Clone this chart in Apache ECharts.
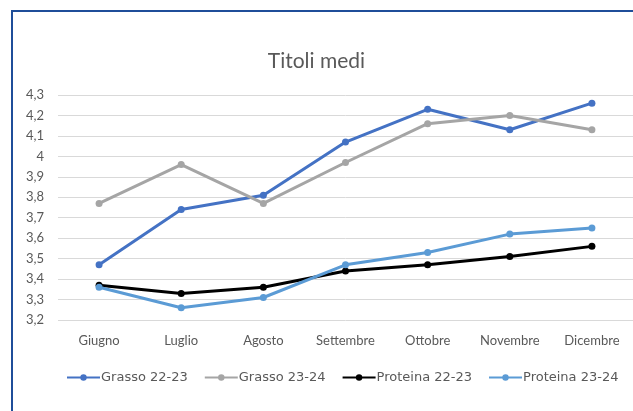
<!DOCTYPE html>
<html>
<head>
    <meta charset="utf-8">
    <title>Titoli medi</title>
    <style>
        html, body { margin: 0; padding: 0; background: #fff; }
        #main { width: 633px; height: 411px; }
    </style>
</head>
<body>
<div id="main"></div>
<script src="https://cdn.jsdelivr.net/npm/echarts@6/dist/echarts.min.js"></script>
<script>
    // mesi
    var mesi = ['Giugno', 'Luglio', 'Agosto', 'Settembre', 'Ottobre', 'Novembre', 'Dicembre'];

    // valori
    var grasso2223 = [3.47, 3.74, 3.81, 4.07, 4.23, 4.13, 4.26];
    var grasso2324 = [3.77, 3.96, 3.77, 3.97, 4.16, 4.20, 4.13];
    var proteina2223 = [3.37, 3.33, 3.36, 3.44, 3.47, 3.51, 3.56];
    var proteina2324 = [3.36, 3.26, 3.31, 3.47, 3.53, 3.62, 3.65];

    var nomi = ['Grasso 22-23', 'Grasso 23-24', 'Proteina 22-23', 'Proteina 23-24'];
    var colori = ['#4472C4', '#A5A5A5', '#000000', '#5B9BD5'];
    var dati = [grasso2223, grasso2324, proteina2223, proteina2324];

    var font = 'Lato, "Noto Sans", sans-serif';

    var myChart = echarts.init(document.getElementById('main'));

    var series = [];
    for (var i = 0; i < dati.length; i++) {
        series.push({
            name: nomi[i],
            type: 'line',
            data: dati[i],
            symbol: 'circle',
            symbolSize: 7,
            color: colori[i],
            lineStyle: { width: 3, color: colori[i] },
            itemStyle: { color: colori[i] }
        });
    }

    myChart.setOption({
        animation: false,
        title: {
            text: 'Titoli medi',
            left: 'center',
            top: 46,
            textStyle: { fontFamily: font, fontWeight: 'normal', fontSize: 21, color: '#595959' }
        },
        graphic: [{
            type: 'rect',
            shape: { x: 12, y: 11, width: 700, height: 500 },
            style: { fill: 'none', stroke: '#1F4E99', lineWidth: 2 }
        }],
        legend: {
            data: nomi,
            left: 61,
            top: 366,
            itemWidth: 33,
            itemHeight: 8,
            itemGap: 16,
            textStyle: { fontFamily: '"DejaVu Sans", sans-serif', fontSize: 13, color: '#595959', padding: [0, 0, 0, -4] }
        },
        grid: {
            left: 58,
            right: -9,
            top: 95,
            bottom: 91
        },
        xAxis: {
            type: 'category',
            data: mesi,
            boundaryGap: true,
            axisLine: { show: false },
            axisTick: { show: false },
            axisLabel: { fontFamily: font, fontSize: 13, color: '#595959', margin: 14 }
        },
        yAxis: {
            type: 'value',
            min: 3.2,
            max: 4.3,
            interval: 0.1,
            axisLine: { show: false },
            axisTick: { show: false },
            splitLine: { lineStyle: { color: '#D9D9D9', width: 1 } },
            axisLabel: {
                fontFamily: font,
                fontSize: 13,
                color: '#595959',
                margin: 14,
                formatter: function (v) {
                    return (Math.round(v * 10) / 10).toString().replace('.', ',');
                }
            }
        },
        series: series
    });
</script>
</body>
</html>
